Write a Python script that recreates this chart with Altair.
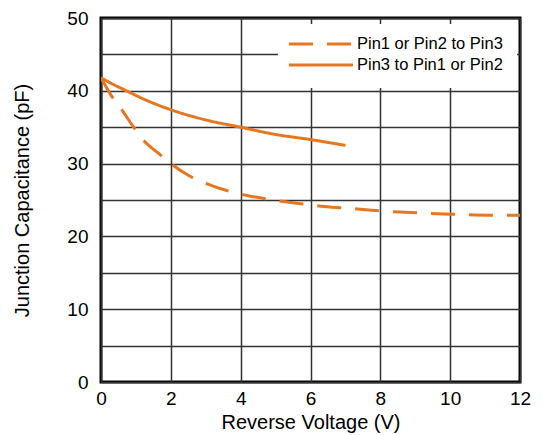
import altair as alt
import pandas as pd

series_names = ["Pin1 or Pin2 to Pin3", "Pin3 to Pin1 or Pin2"]

x_dash = [0, 0.3, 0.55, 0.95, 1.2, 1.7, 2.0, 2.5, 3.0, 3.6, 4.0, 4.8, 5.2, 5.9, 6.3, 7.0, 8.0, 9.2, 10.0, 11.2, 12.0]
y_dash = [41.8, 39.3, 37.7, 34.9, 33.3, 31.2, 30.0, 28.4, 27.3, 26.3, 25.8, 25.1, 24.8, 24.4, 24.15, 23.9, 23.5, 23.2, 23.05, 22.9, 22.9]

x_solid = [0, 0.3, 0.6, 1.3, 2.0, 3.0, 4.0, 5.0, 6.0, 7.0]
y_solid = [41.8, 41.0, 40.3, 38.7, 37.4, 36.0, 35.0, 34.0, 33.3, 32.5]

x_ticks = [0, 2, 4, 6, 8, 10, 12]
y_grid = [0, 5, 10, 15, 20, 25, 30, 35, 40, 45, 50]

orange = "#E8761E"
font = "Liberation Sans"

df = pd.concat([
    pd.DataFrame({"v": x_dash, "c": y_dash, "s": series_names[0], "o": range(len(x_dash))}),
    pd.DataFrame({"v": x_solid, "c": y_solid, "s": series_names[1], "o": range(len(x_solid))}),
])

lines = alt.Chart(df).mark_line(strokeWidth=3, interpolate="monotone", clip=True, color=orange).encode(
    x=alt.X("v:Q", scale=alt.Scale(domain=[0, 12], nice=False),
            axis=alt.Axis(values=x_ticks, title="Reverse Voltage (V)", format="d")),
    y=alt.Y("c:Q", scale=alt.Scale(domain=[0, 50], nice=False),
            axis=alt.Axis(values=y_grid, title="Junction Capacitance (pF)",
                          labelExpr="datum.value % 10 == 0 ? datum.label : ''")),
    strokeDash=alt.StrokeDash("s:N", scale=alt.Scale(domain=series_names, range=[[24, 14], [1, 0]]),
                              legend=None),
    order="o:Q",
)

# manual legend (box, symbols, labels)
leg1 = pd.DataFrame({"s": [series_names[0]]})
leg2 = pd.DataFrame({"s": [series_names[1]]})

box = alt.Chart(leg1).mark_rect(fill="white", stroke=None).encode(
    x=alt.value(177), x2=alt.value(416), y=alt.value(6), y2=alt.value(70))
sym1 = alt.Chart(leg1).mark_rule(color=orange, strokeWidth=3, strokeDash=[24, 14]).encode(
    x=alt.value(188), x2=alt.value(252), y=alt.value(26))
sym2 = alt.Chart(leg2).mark_rule(color=orange, strokeWidth=3).encode(
    x=alt.value(188), x2=alt.value(252), y=alt.value(47))
txt1 = alt.Chart(leg1).mark_text(align="left", baseline="middle", font=font, fontSize=16.5, color="black").encode(
    x=alt.value(256), y=alt.value(26), text="s:N")
txt2 = alt.Chart(leg2).mark_text(align="left", baseline="middle", font=font, fontSize=16.5, color="black").encode(
    x=alt.value(256), y=alt.value(47), text="s:N")

chart = alt.layer(lines, box, sym1, sym2, txt1, txt2).properties(
    width=419, height=364,
    autosize=alt.AutoSizeParams(type="none"),
    padding={"left": 93, "top": 10, "right": 15, "bottom": 53},
).configure_view(
    stroke="black", strokeWidth=3
).configure_axis(
    domain=False, ticks=False, tickSize=0, labelFlush=False,
    grid=True, gridColor="#333333", gridWidth=1.5, gridOpacity=1,
    labelFont=font, labelFontSize=19, labelColor="black",
    titleFont=font, titleFontSize=20, titleFontWeight="normal", titleColor="black",
).configure_axisX(
    labelPadding=7, titlePadding=4,
).configure_axisY(
    labelPadding=13, titlePadding=34,
)

chart.save("out.html", embed_options={"renderer": "svg", "actions": False})
